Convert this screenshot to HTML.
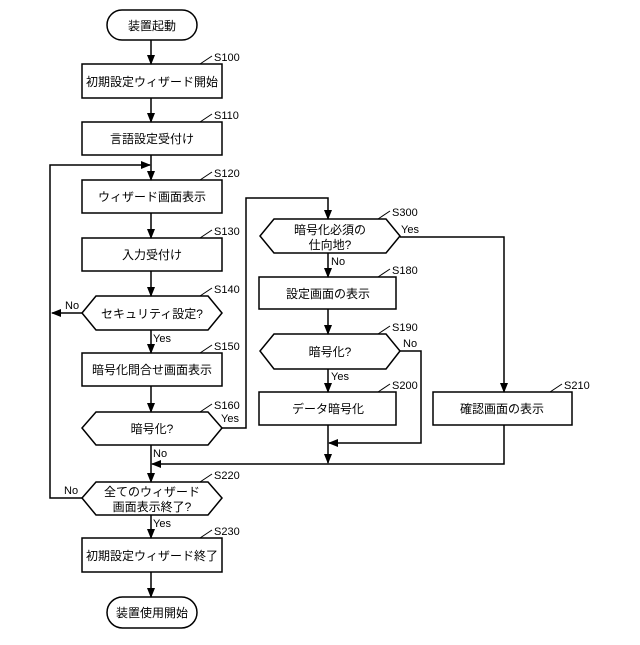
<!DOCTYPE html>
<html><head><meta charset="utf-8"><style>html,body{margin:0;padding:0;background:#fff}</style></head><body>
<svg width="640" height="640" xmlns="http://www.w3.org/2000/svg" font-family="Liberation Sans, Noto Sans CJK JP, sans-serif">
<defs><marker id="a" markerWidth="10" markerHeight="10" refX="9" refY="5" orient="auto" markerUnits="userSpaceOnUse"><path d="M0,1 L10,5 L0,9 Z" fill="#000"/></marker></defs>
<g fill="none" stroke="#000" stroke-width="1.5">
<rect x="107" y="10" width="90" height="30" rx="15"/>
<rect x="82" y="64" width="140" height="34"/>
<rect x="82" y="122" width="140" height="33"/>
<rect x="82" y="180" width="140" height="33"/>
<rect x="82" y="238" width="140" height="33"/>
<polygon points="96,296 208,296 222,313 208,330 96,330 82,313"/>
<rect x="82" y="353" width="140" height="33"/>
<polygon points="96,412 208,412 222,428 208,445 96,445 82,428"/>
<polygon points="96,482 208,482 222,498 208,515 96,515 82,498"/>
<rect x="82" y="538" width="140" height="34"/>
<rect x="107" y="597" width="90" height="31" rx="15.5"/>
<polygon points="274,219 386,219 400,236 386,253 274,253 260,236"/>
<rect x="259" y="277" width="137" height="32"/>
<polygon points="274,334 386,334 400,351 386,369 274,369 260,351"/>
<rect x="259" y="392" width="137" height="33"/>
<rect x="433" y="392" width="139" height="33"/>
</g>
<g fill="none" stroke="#000" stroke-width="1.5" marker-end="url(#a)">
<line x1="151" y1="40" x2="151" y2="64"/>
<line x1="151" y1="98" x2="151" y2="122"/>
<line x1="151" y1="155" x2="151" y2="180"/>
<line x1="151" y1="213" x2="151" y2="238"/>
<line x1="151" y1="271" x2="151" y2="296"/>
<line x1="82" y1="313" x2="52" y2="313"/>
<line x1="151" y1="330" x2="151" y2="353"/>
<line x1="151" y1="386" x2="151" y2="412"/>
<line x1="151" y1="445" x2="151" y2="482"/>
<polyline points="82,498 50,498 50,165 150,165"/>
<line x1="151" y1="515" x2="151" y2="538"/>
<line x1="151" y1="572" x2="151" y2="597"/>
<polyline points="222,428 246,428 246,198 328,198 328,219"/>
<line x1="328" y1="253" x2="328" y2="277"/>
<line x1="328" y1="309" x2="328" y2="334"/>
<line x1="328" y1="369" x2="328" y2="392"/>
<polyline points="400,351 421,351 421,443 329,443"/>
<line x1="328" y1="425" x2="328" y2="463"/>
<polyline points="400,237 504,237 504,392"/>
<polyline points="504,425 504,464 152,464"/>
</g>
<g stroke="#000" stroke-width="1">
<line x1="200" y1="64" x2="212" y2="56"/><line x1="200" y1="122" x2="212" y2="114"/>
<line x1="200" y1="180" x2="212" y2="172"/><line x1="200" y1="238" x2="212" y2="230"/>
<line x1="200" y1="296" x2="212" y2="288"/><line x1="200" y1="353" x2="212" y2="345"/>
<line x1="200" y1="412" x2="212" y2="404"/><line x1="200" y1="482" x2="212" y2="474"/>
<line x1="200" y1="538" x2="212" y2="530"/>
<line x1="378" y1="219" x2="390" y2="211"/><line x1="378" y1="277" x2="390" y2="269"/>
<line x1="378" y1="334" x2="390" y2="326"/><line x1="378" y1="392" x2="390" y2="384"/>
<line x1="550" y1="392" x2="562" y2="384"/>
</g>
<g font-size="11" fill="#000">
<text x="214" y="61">S100</text><text x="214" y="119">S110</text><text x="214" y="177">S120</text>
<text x="214" y="235">S130</text><text x="214" y="293">S140</text><text x="214" y="350">S150</text>
<text x="214" y="409">S160</text><text x="214" y="479">S220</text><text x="214" y="535">S230</text>
<text x="392" y="216">S300</text><text x="392" y="274">S180</text><text x="392" y="331">S190</text>
<text x="392" y="389">S200</text><text x="564" y="389">S210</text>
<text x="65" y="309">No</text><text x="153" y="342">Yes</text><text x="221" y="422">Yes</text>
<text x="153" y="457">No</text><text x="64" y="494">No</text><text x="153" y="527">Yes</text>
<text x="401" y="233">Yes</text><text x="331" y="265">No</text><text x="403" y="347">No</text>
<text x="331" y="380">Yes</text>
</g>
<g font-size="12" fill="#000" text-anchor="middle">
<text x="152" y="30">装置起動</text>
<text x="152" y="86">初期設定ウィザード開始</text>
<text x="152" y="143">言語設定受付け</text>
<text x="152" y="201">ウィザード画面表示</text>
<text x="152" y="259">入力受付け</text>
<text x="152" y="318">セキュリティ設定?</text>
<text x="152" y="374">暗号化問合せ画面表示</text>
<text x="152" y="433">暗号化?</text>
<text x="152" y="496">全てのウィザード</text>
<text x="152" y="511">画面表示終了?</text>
<text x="152" y="560">初期設定ウィザード終了</text>
<text x="152" y="617">装置使用開始</text>
<text x="330" y="234">暗号化必須の</text>
<text x="330" y="249">仕向地?</text>
<text x="328" y="298">設定画面の表示</text>
<text x="330" y="356">暗号化?</text>
<text x="328" y="413">データ暗号化</text>
<text x="502" y="413">確認画面の表示</text>
</g>
</svg>
</body></html>
